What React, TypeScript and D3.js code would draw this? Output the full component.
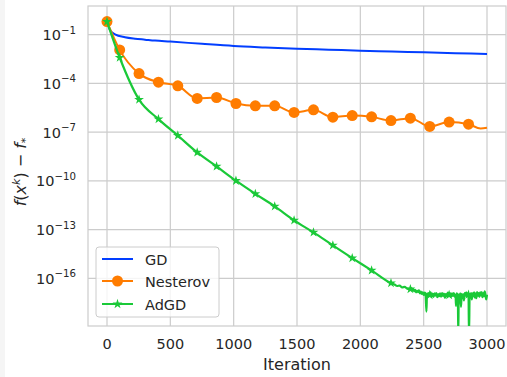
import * as d3 from "d3";

// iteration counts where each series was read, and log10 of f(x^k) - f*
const gdIter = [0, 24, 63, 142, 221, 300, 379, 500, 750, 1000, 1250, 1500, 1750, 2000, 2250, 2500, 2750, 3000];
const gdLog = [-0.2, -0.71, -0.98, -1.16, -1.25, -1.31, -1.37, -1.43, -1.57, -1.7, -1.79, -1.87, -1.93, -1.99, -2.04, -2.09, -2.14, -2.19];

const nesterovIter = [0, 100, 253, 406, 559, 712, 865, 1018, 1171, 1324, 1477, 1630, 1783, 1936, 2089, 2242, 2395, 2548, 2701, 2854, 2950, 3000];
const nesterovLog = [-0.2, -1.94, -3.4, -3.93, -4.15, -4.93, -4.87, -5.24, -5.38, -5.38, -5.79, -5.63, -6.08, -5.98, -6.06, -6.29, -6.14, -6.65, -6.38, -6.51, -6.78, -6.73];

const adgdIter = [
  0, 100, 253, 406, 559, 712, 865, 1018, 1171, 1324,
  1477, 1630, 1783, 1936, 2089, 2242, 2270, 2290, 2310, 2330,
  2350, 2370, 2395, 2403, 2410, 2418, 2425, 2433, 2440, 2448,
  2455, 2463, 2470, 2478, 2485, 2493, 2500, 2508, 2515, 2522,
  2526, 2533, 2540, 2548, 2555, 2563, 2570, 2578, 2585, 2593,
  2600, 2608, 2615, 2623, 2630, 2638, 2645, 2653, 2660, 2668,
  2675, 2683, 2690, 2701, 2708, 2715, 2723, 2730, 2738, 2745,
  2752, 2755, 2760, 2766, 2770, 2773, 2777, 2783, 2789, 2795,
  2800, 2806, 2812, 2818, 2824, 2830, 2836, 2843, 2848, 2854,
  2858, 2863, 2868, 2874, 2880, 2886, 2892, 2898, 2904, 2910,
  2916, 2922, 2928, 2934, 2940, 2946, 2952, 2958, 2964, 2970,
  2976, 2982, 2988, 2994, 3000,
];
const adgdLog = [
  -0.2, -2.41, -5.0, -6.2, -7.21, -8.25, -9.11, -9.99, -10.8, -11.57,
  -12.43, -13.17, -13.97, -14.75, -15.51, -16.29, -16.38, -16.47, -16.44, -16.55,
  -16.52, -16.63, -16.66, -16.6, -16.74, -16.66, -16.78, -16.7, -16.86, -16.76,
  -16.84, -16.74, -16.92, -16.82, -16.96, -16.86, -17.02, -16.88, -16.98, -18.05,
  -16.92, -17.08, -16.9, -17.02, -16.86, -17.1, -16.94, -17.14, -16.92, -17.06,
  -16.9, -17.16, -16.96, -17.1, -16.92, -17.12, -16.9, -17.08, -16.94, -17.2,
  -16.98, -17.1, -16.88, -17.02, -16.9, -17.12, -16.92, -17.08, -16.9, -17.14,
  -17.0, -17.7, -16.92, -17.1, -16.95, -19.5, -17.0, -17.12, -16.92, -17.75,
  -16.95, -17.2, -16.98, -17.35, -16.9, -17.08, -16.86, -17.1, -16.92, -17.0,
  -19.5, -16.96, -17.12, -16.9, -17.3, -16.92, -17.1, -16.86, -17.18, -16.92,
  -17.22, -16.84, -17.06, -16.9, -17.14, -16.86, -17.04, -16.84, -17.16, -16.9,
  -17.1, -16.8, -17.02, -17.3, -17.0,
];

// iterations carrying a marker (markevery)
const markIter = [0, 100, 253, 406, 559, 712, 865, 1018, 1171, 1324, 1477, 1630, 1783, 1936, 2089, 2242, 2395, 2548, 2701, 2854];

const xTicks = [0, 500, 1000, 1500, 2000, 2500, 3000];
const yTickExp = [-1, -4, -7, -10, -13, -16];

const W = 507;
const H = 377;
const left = 88;
const right = 506;
const top = 6;
const bottom = 326;

const gridColor = "#cccccc";
const textColor = "#262626";
const font = "'DejaVu Sans', sans-serif";
const colors = { gd: "#023eff", nesterov: "#ff7c00", adgd: "#1ac938" };

export default function App() {
  const x = d3.scaleLinear().domain([-150, 3150]).range([left, right]);
  const y = d3.scaleLog().domain([10 ** -18.93, 10 ** 0.76]).range([bottom, top]);

  const line = d3
    .line<[number, number]>()
    .x((d) => x(d[0]))
    .y((d) => y(10 ** d[1]))
    .curve(d3.curveMonotoneX);

  const gd = gdIter.map((k, i) => [k, gdLog[i]] as [number, number]);
  const nes = nesterovIter.map((k, i) => [k, nesterovLog[i]] as [number, number]);
  const ad = adgdIter.map((k, i) => [k, adgdLog[i]] as [number, number]);

  const nesMarks = nes.filter((d) => markIter.includes(d[0]));
  const adMarks = ad.filter((d) => markIter.includes(d[0]));

  const star = d3.symbol(d3.symbolStar, 30)()!;

  // legend
  const lgX = 96, lgY = 247, lgW = 123, lgH = 70;
  const rows = [259, 281, 304];
  const sx1 = 102, sx2 = 133;

  return (
    <svg width={W} height={H} style={{ position: "absolute", left: 0, top: 0 }} fontFamily={font}>
      <rect x={0} y={0} width={W} height={H} fill="#fff" />
      <rect x={0} y={0} width={5} height={H} fill="#f5f5f5" />
      <defs>
        <clipPath id="plot">
          <rect x={left} y={top} width={right - left} height={bottom - top} />
        </clipPath>
      </defs>

      {/* grid */}
      {xTicks.map((t) => (
        <line key={"gx" + t} x1={x(t)} x2={x(t)} y1={top} y2={bottom} stroke={gridColor} strokeWidth={1.2} />
      ))}
      {yTickExp.map((e) => (
        <line key={"gy" + e} x1={left} x2={right} y1={y(10 ** e)} y2={y(10 ** e)} stroke={gridColor} strokeWidth={1.2} />
      ))}
      <rect x={left} y={top} width={right - left} height={bottom - top} fill="none" stroke={gridColor} strokeWidth={1.2} />

      {/* series */}
      <g clipPath="url(#plot)">
        <path d={line(gd)!} fill="none" stroke={colors.gd} strokeWidth={2} />
        <path d={line(nes)!} fill="none" stroke={colors.nesterov} strokeWidth={2} />
        {nesMarks.map((d) => (
          <circle key={"nm" + d[0]} cx={x(d[0])} cy={y(10 ** d[1])} r={5.5} fill={colors.nesterov} />
        ))}
        <path d={line(ad)!} fill="none" stroke={colors.adgd} strokeWidth={2.2} strokeLinejoin="round" />
        {adMarks.map((d) => (
          <path key={"am" + d[0]} d={star} transform={`translate(${x(d[0])},${y(10 ** d[1])})`} fill={colors.adgd} />
        ))}
      </g>

      {/* x tick labels */}
      {xTicks.map((t) => (
        <text key={"xl" + t} x={x(t)} y={349} textAnchor="middle" fontSize={14.5} fill={textColor}>
          {t}
        </text>
      ))}
      <text x={(left + right) / 2} y={369.5} textAnchor="middle" fontSize={16} fill={textColor}>
        Iteration
      </text>

      {/* y tick labels */}
      {yTickExp.map((e) => (
        <text key={"yl" + e} x={76} y={y(10 ** e) + 5.5} textAnchor="end" fontSize={14.5} fill={textColor}>
          10
          <tspan fontSize={10.2} dy={-6.5}>{"\u2212" + Math.abs(e)}</tspan>
        </text>
      ))}

      {/* y label */}
      <text transform="translate(26,172) rotate(-90)" textAnchor="middle" fontSize={16} fill={textColor}>
        <tspan fontStyle="italic">f</tspan>(<tspan fontStyle="italic">x</tspan>
        <tspan fontStyle="italic" fontSize={11} dy={-6}>k</tspan>
        <tspan dy={6}>) − </tspan>
        <tspan fontStyle="italic">f</tspan>
        <tspan fontSize={11} dy={3}>*</tspan>
      </text>

      {/* legend */}
      <rect x={lgX} y={lgY} width={lgW} height={lgH} rx={3} fill="#fff" fillOpacity={0.8} stroke={gridColor} strokeWidth={1} />
      <line x1={sx1} x2={sx2} y1={rows[0]} y2={rows[0]} stroke={colors.gd} strokeWidth={2} />
      <line x1={sx1} x2={sx2} y1={rows[1]} y2={rows[1]} stroke={colors.nesterov} strokeWidth={2} />
      <circle cx={(sx1 + sx2) / 2} cy={rows[1]} r={5.5} fill={colors.nesterov} />
      <line x1={sx1} x2={sx2} y1={rows[2]} y2={rows[2]} stroke={colors.adgd} strokeWidth={2} />
      <path d={star} transform={`translate(${(sx1 + sx2) / 2},${rows[2]})`} fill={colors.adgd} />
      {["GD", "Nesterov", "AdGD"].map((s, i) => (
        <text key={s} x={145} y={rows[i] + 5.5} fontSize={14.5} fill={textColor}>
          {s}
        </text>
      ))}
    </svg>
  );
}
